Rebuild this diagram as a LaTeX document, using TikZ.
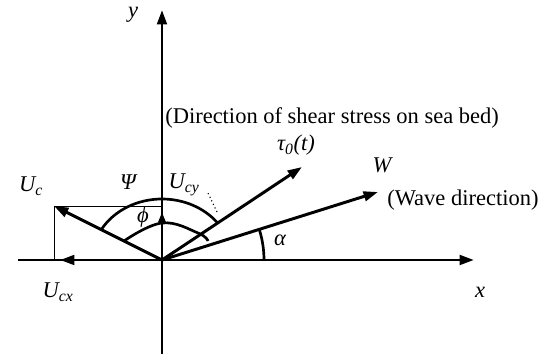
\documentclass[tikz,border=0pt]{standalone}
\usepackage{fontspec}
\setmainfont{Liberation Serif}
\usetikzlibrary{arrows.meta}
\tikzset{
  vec/.style={-{Triangle[length=3.6mm,width=2.4mm]},line width=2.1pt},
  small/.style={-{Triangle[length=2.6mm,width=1.8mm]},line width=2.1pt},
  guide/.style={line width=0.5pt},
  arcl/.style={line width=1.9pt},
  lbl/.style={font=\fontsize{16}{19}\selectfont\itshape,inner sep=0pt},
  txt/.style={font=\fontsize{16}{19}\selectfont,inner sep=0pt}
}
\begin{document}
\begin{tikzpicture}[x=0.025cm,y=0.025cm]
  \useasboundingbox (-162,-94) rectangle (387,260);
  \coordinate (O) at (0,0);
  \coordinate (xl) at (-144,0);
  \coordinate (xr) at (312,0);
  \coordinate (yb) at (0,-94);
  \coordinate (yt) at (0,250);
  \coordinate (Uc) at (-108,54);
  \coordinate (Ucx) at (-102,0);
  \coordinate (Ucy) at (0,48);
  \coordinate (tau) at (140,93);
  \coordinate (W) at (216,68);
  % components of U_c
  \draw[guide] (Uc) -- (Uc |- O);
  \draw[guide] (Uc) -- (Uc -| O);
  % axes
  \draw[vec] (xl) -- (xr);
  \draw[vec] (yb) -- (yt);
  % vectors
  \draw[vec] (O) -- (Uc);
  \draw[vec] (O) -- (Ucx);
  \draw[small] (O) -- (Ucy);
  \draw[vec] (O) -- (tau);
  \draw[vec] (O) -- (W);
  % angles
  \draw[arcl] (O) ++(149.3:70 and 61) arc[start angle=149.3,end angle=37.8,x radius=70,y radius=61];
  \draw[arcl] plot[smooth,tension=0.7] coordinates {(-38,19) (0,37) (36,27) (46,19)};
  \draw[arcl] (102,0) arc[start angle=0,end angle=17.5,radius=102];
  \draw[line width=0.8pt,dotted] (55,48) -- (46,67);
  % labels
  \node[lbl] (ylab) at (-29,245) {y};
  \node[lbl] (xlab) at (318,-32) {x};
  \node[lbl] (Uclab) at (-131,74) {U\textsubscript{c}};
  \node[lbl] (Psilab) at (-34,78) {Ψ};
  \node[lbl] (Ucylab) at (22,75) {U\textsubscript{cy}};
  \node[lbl] (philab) at (-19,43) {ϕ};
  \node[lbl] (Ucxlab) at (-104,-32) {U\textsubscript{cx}};
  \node[lbl] (alab) at (118,20) {α};
  \node[txt,anchor=west] (shear) at (3,142) {(Direction of shear stress on sea bed)};
  \node[lbl] (taulab) at (134,115) {τ\textsubscript{0}(t)};
  \node[lbl] (Wlab) at (220,95) {W};
  \node[txt,anchor=west] (wave) at (225,60) {(Wave direction)};
\end{tikzpicture}
\end{document}
